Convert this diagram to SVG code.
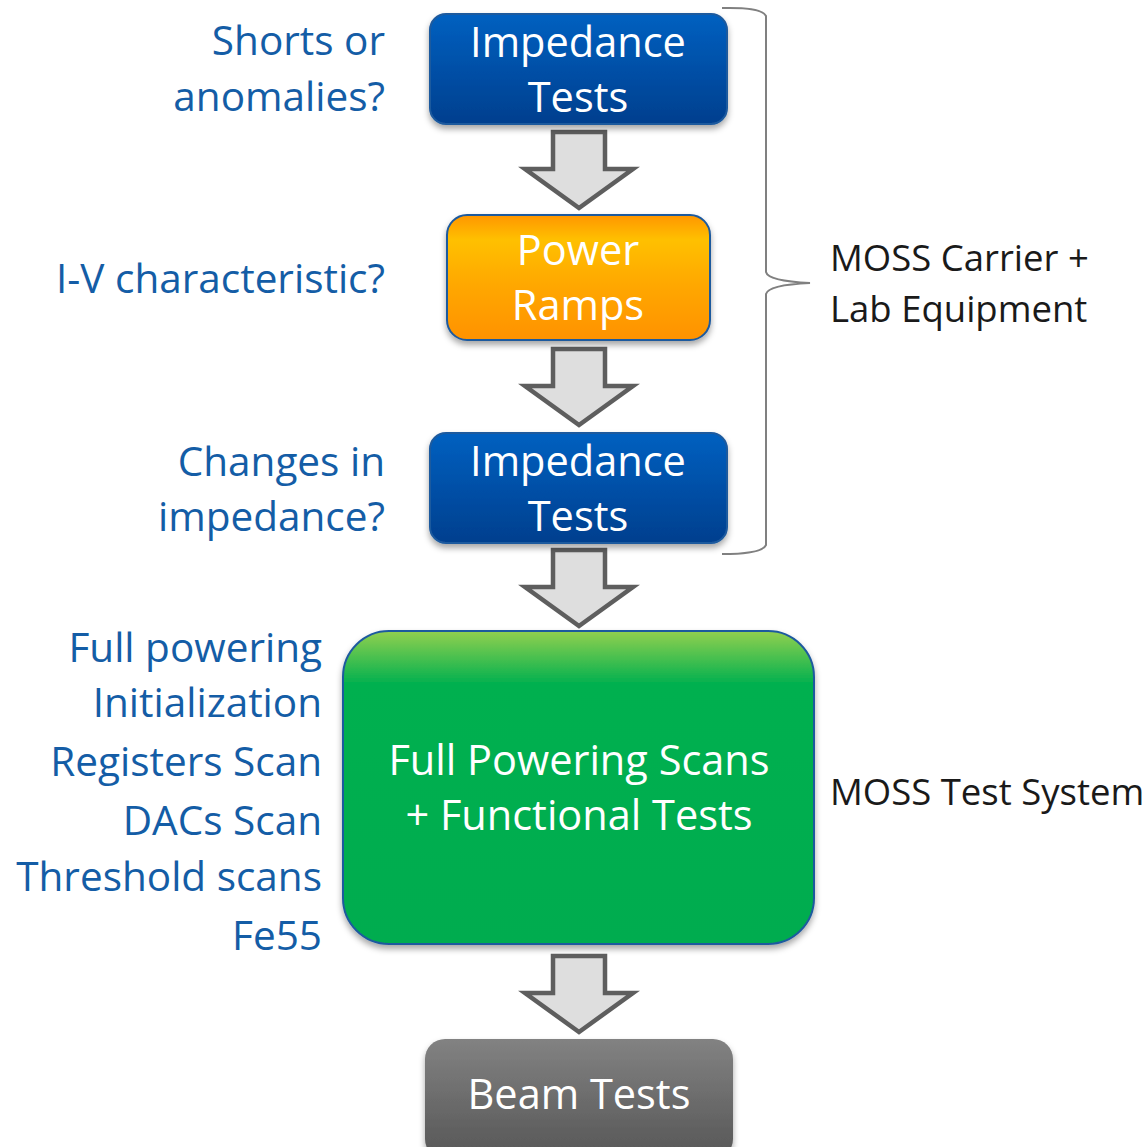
<svg xmlns="http://www.w3.org/2000/svg" width="1146" height="1147" viewBox="0 0 1146 1147">
<defs>
<linearGradient id="gBlue" x1="0" y1="0" x2="0" y2="1"><stop offset="0" stop-color="#0060c0"/><stop offset="1" stop-color="#003f8e"/></linearGradient>
<linearGradient id="gOrange" x1="0" y1="0" x2="0" y2="1"><stop offset="0" stop-color="#ff9600"/><stop offset="0.2" stop-color="#ffc000"/><stop offset="0.55" stop-color="#ffa800"/><stop offset="1" stop-color="#ff9200"/></linearGradient>
<linearGradient id="gGreen" x1="0" y1="0" x2="0" y2="1"><stop offset="0" stop-color="#92d050"/><stop offset="0.17" stop-color="#00b050"/><stop offset="1" stop-color="#00ac50"/></linearGradient>
<linearGradient id="gGray" x1="0" y1="0" x2="0" y2="1"><stop offset="0" stop-color="#828282"/><stop offset="1" stop-color="#565656"/></linearGradient>
<filter id="sh" x="-10%" y="-10%" width="120%" height="130%"><feDropShadow dx="0" dy="4" stdDeviation="3" flood-color="#000" flood-opacity="0.35"/></filter>
<path id="arrow" d="M-26,0 H26 V37 H54 L0,76 L-54,37 H-26 Z" fill="#dedede" stroke="#5e5e5e" stroke-width="4.5" stroke-linejoin="miter"/>
<style>
.box{stroke:#1f5a9e;stroke-width:2;filter:url(#sh)}
.bt{font-family:"Open Sans",Lato,sans-serif;fill:#fff;text-anchor:middle;font-size:41.5px}
.lt{font-family:"Open Sans",Lato,sans-serif;fill:#145da6;text-anchor:end;font-size:40.5px}
.rt{font-family:"Open Sans",Lato,sans-serif;fill:#1a1a1a;font-size:36.5px}
</style>
</defs>
<g id="connectors">
<use href="#arrow" x="579" y="132"/>
<use href="#arrow" x="579" y="349"/>
<use href="#arrow" x="579" y="550"/>
<use href="#arrow" x="579" y="956"/>
<path d="M722,8 Q762,7 766,16 V272 Q768,281 810,283 Q768,285 766,294 V545 Q762,554 722,554" fill="none" stroke="#808080" stroke-width="2"/>
</g>
<g id="n1"><rect class="box" x="430" y="14" width="297" height="110" rx="16" fill="url(#gBlue)"/>
<text class="bt" x="578" y="57">Impedance</text><text class="bt" x="578" y="112">Tests</text></g>
<g id="n2"><rect class="box" x="447" y="215" width="263" height="125" rx="20" fill="url(#gOrange)"/>
<text class="bt" x="578" y="265">Power</text><text class="bt" x="578" y="320">Ramps</text></g>
<g id="n3"><rect class="box" x="430" y="433" width="297" height="110" rx="16" fill="url(#gBlue)"/>
<text class="bt" x="578" y="476">Impedance</text><text class="bt" x="578" y="531">Tests</text></g>
<g id="n4"><rect class="box" x="343" y="631" width="471" height="313" rx="46" fill="url(#gGreen)"/>
<text class="bt" x="579" y="775">Full Powering Scans</text><text class="bt" x="579" y="830">+ Functional Tests</text></g>
<g id="n5"><rect x="425" y="1039" width="308" height="120" rx="20" fill="url(#gGray)" filter="url(#sh)"/>
<text class="bt" x="579" y="1109">Beam Tests</text></g>
<g id="labels">
<text class="lt" x="385" y="55">Shorts or</text>
<text class="lt" x="385" y="111">anomalies?</text>
<text class="lt" x="385" y="293">I-V characteristic?</text>
<text class="lt" x="385" y="476">Changes in</text>
<text class="lt" x="385" y="531">impedance?</text>
<text class="lt" x="322" y="662">Full powering</text>
<text class="lt" x="322" y="717">Initialization</text>
<text class="lt" x="322" y="776">Registers Scan</text>
<text class="lt" x="322" y="835">DACs Scan</text>
<text class="lt" x="322" y="891">Threshold scans</text>
<text class="lt" x="322" y="950">Fe55</text>
<text class="rt" x="830" y="271">MOSS Carrier +</text>
<text class="rt" x="830" y="322">Lab Equipment</text>
<text class="rt" x="830" y="805">MOSS Test System</text>
</g>
</svg>
